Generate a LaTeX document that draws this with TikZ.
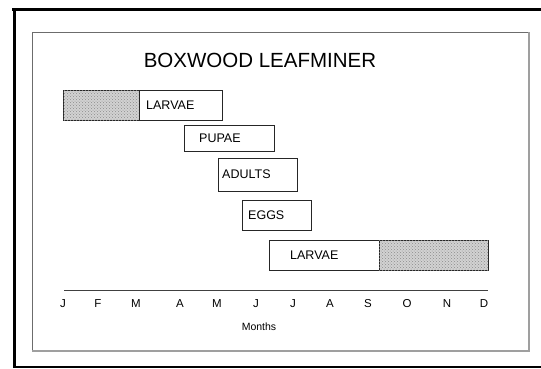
\documentclass[tikz,border=0pt]{standalone}
\usepackage{fontspec}
\setmainfont{Liberation Sans}
\usetikzlibrary{patterns}
\begin{document}
\begin{tikzpicture}[x=1pt,y=-1pt,
  bar/.style={draw=black!85, line width=0.8pt, inner sep=0pt, outer sep=0pt, anchor=north west},
  hatchbar/.style={bar, fill=gray!35, postaction={pattern=crosshatch dots, pattern color=gray!90}},
  lbl/.style={anchor=west, inner sep=0pt, font=\fontsize{12.5}{14}\selectfont},
  month/.style={inner sep=0pt, font=\fontsize{11.5}{13}\selectfont}]
\useasboundingbox (0,0) rectangle (541,368);
% outer frame
\draw[line width=3pt] (12,9.5) -- (541,9.5);
\draw[line width=3pt] (14,8) -- (14,368);
\draw[line width=1.2pt] (14,367) -- (541,367);
% inner frame
\draw[gray!85!black, line width=1pt] (32,351) -- (32,32) -- (529,32);
\draw[gray!75, line width=1.5pt] (529,32) -- (529,351) -- (32,351);
% title
\node[inner sep=0pt, font=\fontsize{20.5}{24}\selectfont] (title) at (260,60) {BOXWOOD LEAFMINER};
% larvae 1
\node[hatchbar, minimum width=76pt, minimum height=30pt] (l1h) at (63,90) {};
\node[bar, minimum width=83pt, minimum height=30pt] (l1w) at (139,90) {};
\node[lbl] (l1t) at (146,105) {LARVAE};
% pupae
\node[bar, minimum width=90pt, minimum height=26pt] (pb) at (184,125) {};
\node[lbl] (pt) at (199,138) {PUPAE};
% adults
\node[bar, minimum width=79pt, minimum height=33pt] (ab) at (218,158) {};
\node[lbl] (at) at (222,174.5) {ADULTS};
% eggs
\node[bar, minimum width=69pt, minimum height=30pt] (eb) at (242,200) {};
\node[lbl] (et) at (248,215) {EGGS};
% larvae 2
\node[bar, minimum width=110pt, minimum height=30pt] (l2w) at (269,240) {};
\node[hatchbar, minimum width=109pt, minimum height=30pt] (l2h) at (379,240) {};
\node[lbl] (l2t) at (290,255) {LARVAE};
% axis
\coordinate (ax0) at (64,290);
\coordinate (ax1) at (488,290);
\draw[black!75, line width=1pt] (ax0) -- (ax1);
\node[month] (m1) at (63,304) {J};
\node[month] (m2) at (98,304) {F};
\node[month] (m3) at (136,304) {M};
\node[month] (m4) at (180,304) {A};
\node[month] (m5) at (217,304) {M};
\node[month] (m6) at (256,304) {J};
\node[month] (m7) at (293,304) {J};
\node[month] (m8) at (330,304) {A};
\node[month] (m9) at (368,304) {S};
\node[month] (m10) at (407,304) {O};
\node[month] (m11) at (447,304) {N};
\node[month] (m12) at (484,304) {D};
\node[inner sep=0pt, font=\fontsize{10.5}{12}\selectfont] (months) at (259,327) {Months};
\end{tikzpicture}
\end{document}
